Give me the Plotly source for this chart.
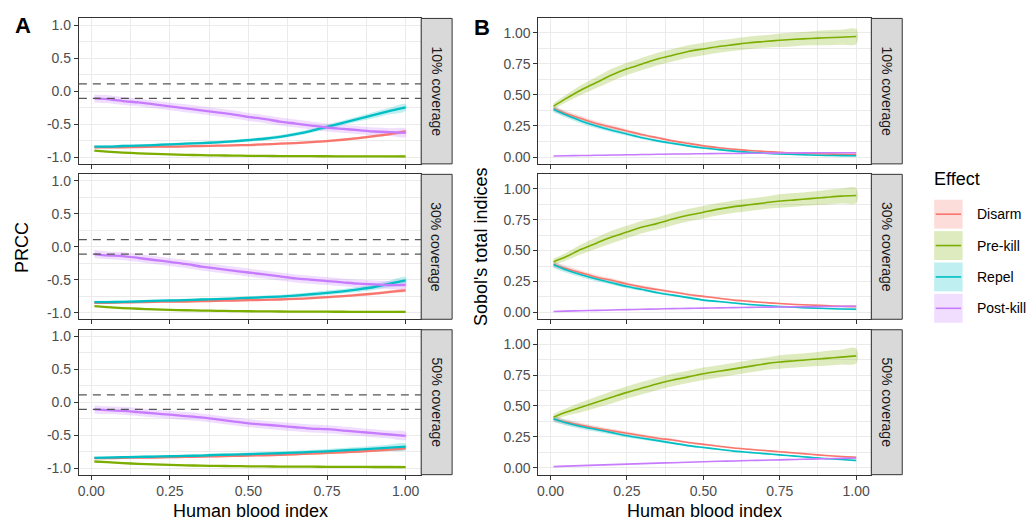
import plotly.graph_objects as go

# ---------------- data ----------------
hbi = [0.01, 0.05, 0.10, 0.15, 0.20, 0.25, 0.30, 0.35, 0.40, 0.45, 0.50,
       0.55, 0.60, 0.65, 0.70, 0.75, 0.80, 0.85, 0.90, 0.95, 1.00]

effects = ["Disarm", "Pre-kill", "Repel", "Post-kill"]
coverages = ["10% coverage", "30% coverage", "50% coverage"]

# PRCC (panel A)
prcc_10_disarm = [-0.85, -0.85, -0.85, -0.845, -0.84, -0.84, -0.835, -0.83, -0.825, -0.82, -0.815, -0.805, -0.795, -0.785, -0.77, -0.755, -0.735, -0.71, -0.68, -0.65, -0.61]
prcc_10_prekill = [-0.90, -0.915, -0.93, -0.94, -0.95, -0.957, -0.963, -0.968, -0.972, -0.975, -0.978, -0.98, -0.982, -0.983, -0.984, -0.985, -0.986, -0.987, -0.987, -0.988, -0.988]
prcc_10_repel = [-0.84, -0.84, -0.83, -0.825, -0.815, -0.805, -0.795, -0.785, -0.775, -0.76, -0.74, -0.72, -0.69, -0.65, -0.60, -0.54, -0.48, -0.42, -0.36, -0.30, -0.245]
prcc_10_postkill = [-0.11, -0.12, -0.15, -0.17, -0.20, -0.23, -0.26, -0.29, -0.32, -0.35, -0.39, -0.42, -0.46, -0.49, -0.52, -0.55, -0.57, -0.59, -0.61, -0.62, -0.63]

prcc_30_disarm = [-0.85, -0.85, -0.845, -0.84, -0.835, -0.83, -0.83, -0.825, -0.82, -0.815, -0.81, -0.805, -0.80, -0.79, -0.78, -0.765, -0.75, -0.73, -0.71, -0.685, -0.66]
prcc_30_prekill = [-0.90, -0.915, -0.93, -0.94, -0.95, -0.957, -0.963, -0.968, -0.972, -0.975, -0.978, -0.98, -0.982, -0.983, -0.984, -0.985, -0.986, -0.987, -0.987, -0.988, -0.988]
prcc_30_repel = [-0.84, -0.84, -0.835, -0.83, -0.82, -0.815, -0.81, -0.80, -0.795, -0.785, -0.775, -0.765, -0.755, -0.74, -0.72, -0.70, -0.675, -0.645, -0.61, -0.56, -0.51]
prcc_30_postkill = [-0.11, -0.13, -0.14, -0.17, -0.20, -0.23, -0.26, -0.30, -0.33, -0.36, -0.39, -0.42, -0.45, -0.48, -0.50, -0.52, -0.54, -0.56, -0.57, -0.58, -0.58]

prcc_50_disarm = [-0.85, -0.85, -0.845, -0.84, -0.84, -0.835, -0.83, -0.825, -0.82, -0.815, -0.81, -0.805, -0.80, -0.79, -0.78, -0.77, -0.76, -0.75, -0.735, -0.72, -0.70]
prcc_50_prekill = [-0.90, -0.91, -0.925, -0.935, -0.945, -0.952, -0.958, -0.963, -0.967, -0.97, -0.973, -0.975, -0.977, -0.978, -0.979, -0.98, -0.981, -0.982, -0.983, -0.983, -0.984]
prcc_50_repel = [-0.845, -0.84, -0.835, -0.83, -0.825, -0.82, -0.815, -0.81, -0.80, -0.795, -0.79, -0.78, -0.775, -0.765, -0.755, -0.745, -0.73, -0.72, -0.705, -0.69, -0.675]
prcc_50_postkill = [-0.11, -0.12, -0.13, -0.15, -0.17, -0.19, -0.21, -0.23, -0.26, -0.29, -0.32, -0.34, -0.36, -0.38, -0.40, -0.41, -0.43, -0.45, -0.47, -0.49, -0.51]

# PRCC ribbon half-widths
prcc_hw_disarm = [0.015, 0.015, 0.015, 0.015, 0.015, 0.015, 0.015, 0.015, 0.015, 0.015, 0.015, 0.015, 0.015, 0.015, 0.015, 0.018, 0.018, 0.02, 0.02, 0.02, 0.02]
prcc_hw_prekill = [0.01, 0.01, 0.01, 0.01, 0.01, 0.01, 0.01, 0.01, 0.01, 0.01, 0.01, 0.01, 0.01, 0.01, 0.01, 0.01, 0.01, 0.01, 0.01, 0.01, 0.01]
prcc_hw_repel = [0.02, 0.02, 0.02, 0.02, 0.02, 0.02, 0.02, 0.02, 0.02, 0.02, 0.025, 0.025, 0.025, 0.03, 0.03, 0.035, 0.035, 0.04, 0.045, 0.05, 0.05]
prcc_hw_postkill = [0.06, 0.06, 0.06, 0.06, 0.06, 0.06, 0.06, 0.06, 0.06, 0.06, 0.06, 0.06, 0.06, 0.06, 0.06, 0.06, 0.06, 0.06, 0.06, 0.06, 0.06]

# Sobol total indices (panel B)
sobol_10_disarm = [0.39, 0.35, 0.31, 0.27, 0.24, 0.21, 0.18, 0.155, 0.13, 0.11, 0.09, 0.075, 0.063, 0.053, 0.045, 0.038, 0.032, 0.028, 0.025, 0.022, 0.02]
sobol_10_prekill = [0.41, 0.47, 0.54, 0.60, 0.66, 0.71, 0.75, 0.79, 0.82, 0.85, 0.87, 0.89, 0.905, 0.92, 0.93, 0.94, 0.948, 0.955, 0.96, 0.965, 0.97]
sobol_10_repel = [0.385, 0.34, 0.29, 0.25, 0.215, 0.185, 0.155, 0.13, 0.11, 0.09, 0.073, 0.06, 0.048, 0.039, 0.031, 0.025, 0.02, 0.016, 0.013, 0.011, 0.01]
sobol_10_postkill = [0.008, 0.01, 0.012, 0.014, 0.016, 0.018, 0.02, 0.022, 0.024, 0.025, 0.027, 0.028, 0.029, 0.03, 0.031, 0.032, 0.033, 0.034, 0.034, 0.035, 0.035]

sobol_30_disarm = [0.39, 0.355, 0.32, 0.285, 0.26, 0.23, 0.205, 0.185, 0.165, 0.145, 0.13, 0.115, 0.10, 0.09, 0.08, 0.072, 0.065, 0.06, 0.055, 0.05, 0.047]
sobol_30_prekill = [0.41, 0.45, 0.51, 0.56, 0.61, 0.65, 0.69, 0.72, 0.755, 0.785, 0.81, 0.835, 0.855, 0.87, 0.885, 0.90, 0.91, 0.92, 0.93, 0.94, 0.945]
sobol_30_repel = [0.385, 0.345, 0.305, 0.27, 0.24, 0.21, 0.185, 0.16, 0.14, 0.12, 0.10, 0.088, 0.076, 0.065, 0.056, 0.048, 0.042, 0.037, 0.032, 0.028, 0.026]
sobol_30_postkill = [0.008, 0.011, 0.014, 0.017, 0.02, 0.023, 0.026, 0.028, 0.031, 0.033, 0.035, 0.037, 0.039, 0.041, 0.043, 0.044, 0.046, 0.047, 0.048, 0.049, 0.05]

sobol_50_disarm = [0.395, 0.37, 0.345, 0.32, 0.30, 0.28, 0.26, 0.24, 0.225, 0.205, 0.19, 0.175, 0.16, 0.15, 0.14, 0.13, 0.12, 0.11, 0.10, 0.092, 0.085]
sobol_50_prekill = [0.41, 0.45, 0.49, 0.53, 0.57, 0.61, 0.645, 0.68, 0.71, 0.735, 0.76, 0.78, 0.80, 0.82, 0.84, 0.855, 0.865, 0.875, 0.885, 0.895, 0.905]
sobol_50_repel = [0.395, 0.365, 0.335, 0.31, 0.285, 0.26, 0.24, 0.22, 0.20, 0.18, 0.165, 0.15, 0.135, 0.125, 0.115, 0.105, 0.095, 0.085, 0.075, 0.068, 0.06]
sobol_50_postkill = [0.01, 0.014, 0.018, 0.022, 0.026, 0.03, 0.034, 0.038, 0.042, 0.046, 0.05, 0.053, 0.056, 0.059, 0.062, 0.065, 0.068, 0.071, 0.074, 0.077, 0.08]

# Sobol ribbon half-widths
sobol_hw_disarm = [0.025, 0.022, 0.02, 0.018, 0.016, 0.014, 0.012, 0.011, 0.01, 0.009, 0.008, 0.007, 0.007, 0.006, 0.006, 0.005, 0.005, 0.005, 0.005, 0.005, 0.005]
sobol_hw_prekill = [0.025, 0.03, 0.04, 0.045, 0.05, 0.05, 0.05, 0.05, 0.05, 0.05, 0.05, 0.05, 0.05, 0.05, 0.05, 0.055, 0.055, 0.055, 0.06, 0.06, 0.06]
sobol_hw_repel = [0.025, 0.022, 0.02, 0.018, 0.016, 0.014, 0.012, 0.011, 0.01, 0.009, 0.008, 0.007, 0.007, 0.006, 0.006, 0.005, 0.005, 0.005, 0.005, 0.005, 0.005]
sobol_hw_postkill = [0.003, 0.003, 0.003, 0.003, 0.003, 0.003, 0.003, 0.003, 0.003, 0.003, 0.003, 0.003, 0.003, 0.003, 0.003, 0.003, 0.003, 0.003, 0.003, 0.003, 0.003]

prcc_threshold = [-0.11, 0.11]

x_tickvals = [0.0, 0.25, 0.5, 0.75, 1.0]
x_ticktext = ["0.00", "0.25", "0.50", "0.75", "1.00"]
prcc_tickvals = [-1.0, -0.5, 0.0, 0.5, 1.0]
prcc_ticktext = ["-1.0", "-0.5", "0.0", "0.5", "1.0"]
sobol_tickvals = [0.0, 0.25, 0.5, 0.75, 1.0]
sobol_ticktext = ["0.00", "0.25", "0.50", "0.75", "1.00"]

# ---------------- styling ----------------
W, H = 1028, 523
FONT = "Liberation Sans, Arial, sans-serif"
colors = {"Disarm": "#F8766D", "Pre-kill": "#7CAE00", "Repel": "#00BFC4", "Post-kill": "#C77CFF"}
fills = {"Disarm": "rgba(248,118,109,0.25)", "Pre-kill": "rgba(124,174,0,0.25)",
         "Repel": "rgba(0,191,196,0.25)", "Post-kill": "rgba(199,124,255,0.25)"}

def px_x(p):
    return p / W

def px_y(p):
    return 1 - p / H

facet_rows = [(17.5, 163.5), (174.0, 319.5), (330.0, 475.5)]
panelA_x = (77.0, 420.0)
panelB_x = (537.5, 871.0)
stripA_x = (420.0, 451.0)
stripB_x = (871.0, 902.0)

prcc_data = [
    {"Disarm": prcc_10_disarm, "Pre-kill": prcc_10_prekill, "Repel": prcc_10_repel, "Post-kill": prcc_10_postkill},
    {"Disarm": prcc_30_disarm, "Pre-kill": prcc_30_prekill, "Repel": prcc_30_repel, "Post-kill": prcc_30_postkill},
    {"Disarm": prcc_50_disarm, "Pre-kill": prcc_50_prekill, "Repel": prcc_50_repel, "Post-kill": prcc_50_postkill},
]
prcc_hw = {"Disarm": prcc_hw_disarm, "Pre-kill": prcc_hw_prekill, "Repel": prcc_hw_repel, "Post-kill": prcc_hw_postkill}
sobol_data = [
    {"Disarm": sobol_10_disarm, "Pre-kill": sobol_10_prekill, "Repel": sobol_10_repel, "Post-kill": sobol_10_postkill},
    {"Disarm": sobol_30_disarm, "Pre-kill": sobol_30_prekill, "Repel": sobol_30_repel, "Post-kill": sobol_30_postkill},
    {"Disarm": sobol_50_disarm, "Pre-kill": sobol_50_prekill, "Repel": sobol_50_repel, "Post-kill": sobol_50_postkill},
]
sobol_hw = {"Disarm": sobol_hw_disarm, "Pre-kill": sobol_hw_prekill, "Repel": sobol_hw_repel, "Post-kill": sobol_hw_postkill}

fig = go.Figure()
layout = dict(
    width=W, height=H, margin=dict(l=0, r=0, t=0, b=0),
    paper_bgcolor="white", plot_bgcolor="white", showlegend=False,
    font=dict(family=FONT, size=13, color="#4D4D4D"),
)
shapes = []
annotations = []

XRANGE = [-0.0395, 1.0495]
PRCC_RANGE = [-1.1, 1.1]
SOBOL_RANGE = [-0.055, 1.116]


def add_panel(n, xdom, ydom, yrange, ytv, ytt, ydt_minor, show_x_labels):
    xa = "xaxis" if n == 1 else f"xaxis{n}"
    ya = "yaxis" if n == 1 else f"yaxis{n}"
    common = dict(showline=True, mirror=True, linecolor="#333333", linewidth=1,
                  ticks="outside", ticklen=4, tickwidth=1, tickcolor="#333333",
                  showgrid=True, gridcolor="#EBEBEB", gridwidth=1.1, zeroline=False,
                  tickfont=dict(family=FONT, size=14, color="#4D4D4D"))
    layout[xa] = dict(common, domain=[px_x(xdom[0]), px_x(xdom[1])], range=XRANGE,
                      anchor=f"y{n}" if n > 1 else "y",
                      tickvals=x_tickvals, ticktext=x_ticktext if show_x_labels else [""] * 5,
                      minor=dict(tickvals=[0.125, 0.375, 0.625, 0.875], showgrid=True,
                                 gridcolor="#EBEBEB", gridwidth=0.6))
    layout[ya] = dict(common, domain=[px_y(ydom[1]), px_y(ydom[0])], range=yrange,
                      anchor=f"x{n}" if n > 1 else "x",
                      tickvals=ytv, ticktext=ytt,
                      minor=dict(tickvals=[v + ydt_minor for v in ytv[:-1]], showgrid=True,
                                 gridcolor="#EBEBEB", gridwidth=0.6))


def add_series(values, halfw, eff, xr, yr, width):
    up = [v + h for v, h in zip(values, halfw)]
    lo = [v - h for v, h in zip(values, halfw)]
    fig.add_trace(go.Scatter(x=hbi + hbi[::-1], y=up + lo[::-1], fill="toself",
                             fillcolor=fills[eff], line=dict(width=0, shape="spline"), mode="lines",
                             hoverinfo="skip", xaxis=xr, yaxis=yr))


for i in range(3):
    # Panel A
    n = i + 1
    add_panel(n, panelA_x, facet_rows[i], PRCC_RANGE, prcc_tickvals, prcc_ticktext, 0.25, i == 2)
    xr = "x" if n == 1 else f"x{n}"
    yr = "y" if n == 1 else f"y{n}"
    for eff in effects:
        add_series(prcc_data[i][eff], prcc_hw[eff], eff, xr, yr, 2.3)
    for thr in prcc_threshold:
        shapes.append(dict(type="line", xref=f"{xr} domain", yref=yr, x0=0, x1=1, y0=thr, y1=thr,
                           line=dict(color="#555555", width=1.3, dash="8px,6px"), layer="above"))
    for eff in effects:
        fig.add_trace(go.Scatter(x=hbi, y=prcc_data[i][eff], mode="lines", name=eff,
                                 line=dict(color=colors[eff], width=2.3, shape="spline", smoothing=0.6),
                                 xaxis=xr, yaxis=yr))

    # Panel B
    n = i + 4
    add_panel(n, panelB_x, facet_rows[i], SOBOL_RANGE, sobol_tickvals, sobol_ticktext, 0.125, i == 2)
    xr = f"x{n}"
    yr = f"y{n}"
    for eff in effects:
        add_series(sobol_data[i][eff], sobol_hw[eff], eff, xr, yr, 1.6)
    for eff in effects:
        fig.add_trace(go.Scatter(x=hbi, y=sobol_data[i][eff], mode="lines", name=eff,
                                 line=dict(color=colors[eff], width=1.6, shape="spline", smoothing=0.8),
                                 xaxis=xr, yaxis=yr))

    # strips
    for sx in (stripA_x, stripB_x):
        y0, y1 = facet_rows[i]
        shapes.append(dict(type="rect", xref="paper", yref="paper",
                           x0=px_x(sx[0]), x1=px_x(sx[1]), y0=px_y(y1), y1=px_y(y0),
                           fillcolor="#D9D9D9", line=dict(color="#333333", width=1)))
        annotations.append(dict(xref="paper", yref="paper", x=px_x((sx[0] + sx[1]) / 2),
                                y=px_y((y0 + y1) / 2), text=coverages[i], textangle=90,
                                showarrow=False, font=dict(family=FONT, size=14, color="#1A1A1A"),
                                xanchor="center", yanchor="middle"))

# axis titles & panel tags
title_font = dict(family=FONT, size=18, color="black")
annotations += [
    dict(xref="paper", yref="paper", x=px_x((panelA_x[0] + panelA_x[1]) / 2), y=px_y(512),
         text="Human blood index", showarrow=False, font=title_font, xanchor="center", yanchor="middle"),
    dict(xref="paper", yref="paper", x=px_x((panelB_x[0] + panelB_x[1]) / 2), y=px_y(512),
         text="Human blood index", showarrow=False, font=title_font, xanchor="center", yanchor="middle"),
    dict(xref="paper", yref="paper", x=px_x(20), y=px_y(247), text="PRCC", textangle=-90,
         showarrow=False, font=title_font, xanchor="center", yanchor="middle"),
    dict(xref="paper", yref="paper", x=px_x(480), y=px_y(247), text="Sobol's total indices", textangle=-90,
         showarrow=False, font=title_font, xanchor="center", yanchor="middle"),
    dict(xref="paper", yref="paper", x=px_x(21), y=px_y(25), text="<b>A</b>",
         showarrow=False, font=dict(family=FONT, size=22, color="black"), xanchor="center", yanchor="middle"),
    dict(xref="paper", yref="paper", x=px_x(481), y=px_y(27), text="<b>B</b>",
         showarrow=False, font=dict(family=FONT, size=22, color="black"), xanchor="center", yanchor="middle"),
    dict(xref="paper", yref="paper", x=px_x(932), y=px_y(179), text="Effect",
         showarrow=False, font=dict(family=FONT, size=18, color="black"), xanchor="left", yanchor="middle"),
]

# legend (drawn manually: ribbon-coloured key with line)
key_rows = [(199.5, 228.5), (231.0, 260.0), (262.5, 291.5), (294.0, 323.0)]
for eff, (ky0, ky1) in zip(effects, key_rows):
    shapes.append(dict(type="rect", xref="paper", yref="paper", x0=px_x(934), x1=px_x(962.5),
                       y0=px_y(ky1), y1=px_y(ky0), fillcolor=fills[eff], line=dict(width=0)))
    cy = (ky0 + ky1) / 2
    shapes.append(dict(type="line", xref="paper", yref="paper", x0=px_x(935.5), x1=px_x(961),
                       y0=px_y(cy), y1=px_y(cy), line=dict(color=colors[eff], width=1.6)))
    annotations.append(dict(xref="paper", yref="paper", x=px_x(975), y=px_y(cy), text=eff,
                            showarrow=False, font=dict(family=FONT, size=14, color="black"),
                            xanchor="left", yanchor="middle"))

layout["shapes"] = shapes
layout["annotations"] = annotations
fig.update_layout(**layout)
fig.write_html("out.html", config={"displayModeBar": False},
               post_script="document.body.style.margin='0';document.body.style.overflow='hidden';")
